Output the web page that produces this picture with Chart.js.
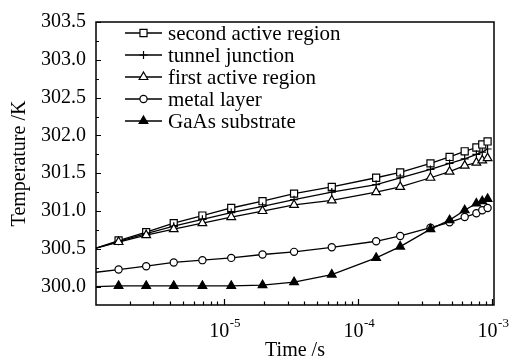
<!DOCTYPE html>
<html><head><meta charset="utf-8">
<script src="https://cdn.jsdelivr.net/npm/chart.js@4/dist/chart.umd.min.js"></script>
<style>html,body{margin:0;padding:0;background:#fff}</style>
</head><body>
<canvas id="c" width="516" height="363" style="width:516px;height:363px;display:block"></canvas>
<script>
// ---- data (time in seconds, temperature in K) ----
const times = [1.12e-6, 1.65e-6, 2.65e-6, 4.25e-6, 6.95e-6, 1.14e-5, 1.95e-5, 3.35e-5, 6.4e-5,
               1.37e-4, 2.07e-4, 3.48e-4, 4.83e-4, 6.26e-4, 7.65e-4, 8.46e-4, 9.27e-4];
const secondActive = [300.51, 300.61, 300.72, 300.84, 300.94, 301.04, 301.13, 301.23, 301.32,
                      301.44, 301.51, 301.63, 301.715, 301.79, 301.84, 301.88, 301.92];
const tunnelJunction = [300.51, 300.60, 300.70, 300.80, 300.89, 300.98, 301.06, 301.15, 301.25,
                        301.35, 301.44, 301.55, 301.63, 301.69, 301.75, 301.78, 301.82];
const firstActive = [300.51, 300.59, 300.68, 300.76, 300.84, 300.92, 301.00, 301.08, 301.14,
                     301.25, 301.32, 301.44, 301.52, 301.60, 301.64, 301.67, 301.70];
const metalLayer = [300.19, 300.226, 300.27, 300.32, 300.35, 300.38, 300.425, 300.46, 300.52,
                    300.60, 300.67, 300.78, 300.85, 300.92, 300.97, 301.01, 301.04];
const gaasSubstrate = [300.0, 300.01, 300.01, 300.01, 300.01, 300.01, 300.02, 300.06, 300.16,
                       300.38, 300.53, 300.76, 300.88, 301.01, 301.10, 301.13, 301.16];
const seriesLabels = ['second active region', 'tunnel junction', 'first active region', 'metal layer', 'GaAs substrate'];
const yTickValues = [300.0, 300.25, 300.5, 300.75, 301.0, 301.25, 301.5, 301.75, 302.0, 302.25, 302.5, 302.75, 303.0, 303.25, 303.5];
const xDecades = [1e-5, 1e-4, 1e-3];
const xDecadeBase = '10';
const xDecadeExp = ['-5', '-4', '-3'];

const FONT = '"Liberation Serif", "Times New Roman", serif';
const toXY = vals => vals.map((v, i) => ({x: times[i], y: v}));
const styles = [
  {pointStyle: 'rect', r: 5, bg: '#fff'},
  {pointStyle: 'cross', r: 4, bg: '#fff'},
  {pointStyle: 'triangle', r: 5, bg: '#fff'},
  {pointStyle: 'circle', r: 3.6, bg: '#fff'},
  {pointStyle: 'triangle', r: 5, bg: '#000'}
];
const seriesData = [secondActive, tunnelJunction, firstActive, metalLayer, gaasSubstrate];
const datasets = seriesData.map((vals, k) => ({
  label: seriesLabels[k],
  data: toXY(vals),
  borderColor: '#000',
  borderWidth: 1.3,
  pointStyle: styles[k].pointStyle,
  pointRadius: vals.map((v, i) => i === 0 ? 0 : styles[k].r),
  pointBorderWidth: 1.2,
  pointBorderColor: '#000',
  pointBackgroundColor: styles[k].bg,
  legendRadius: styles[k].r,
  legendBg: styles[k].bg,
  tension: 0,
  order: 5 - k
}));

const frameTicks = {
  id: 'frameTicks',
  afterDraw(chart) {
    const ctx = chart.ctx, a = chart.chartArea;
    const xs = chart.scales.x, ys = chart.scales.y;
    ctx.save();
    ctx.strokeStyle = '#000';
    ctx.lineWidth = 1.2;
    ctx.beginPath();
    xs.ticks.forEach(t => {
      const px = Math.round(xs.getPixelForValue(t.value)) + 0.5;
      const lg = Math.log10(t.value);
      const len = Math.abs(lg - Math.round(lg)) < 1e-9 ? 6 : 3.5;
      ctx.moveTo(px, a.bottom); ctx.lineTo(px, a.bottom - len);
    });
    ys.ticks.forEach(t => {
      const py = Math.round(ys.getPixelForValue(t.value)) + 0.5;
      const major = Math.abs(t.value * 2 - Math.round(t.value * 2)) < 1e-6;
      const len = major ? 5 : 3;
      ctx.moveTo(a.left, py); ctx.lineTo(a.left + len, py);
    });
    ctx.stroke();
    ctx.lineWidth = 1.5;
    ctx.strokeRect(a.left, a.top, a.right - a.left, a.bottom - a.top);

    // decade labels with superscript exponents
    ctx.fillStyle = '#000';
    ctx.textBaseline = 'alphabetic';
    ctx.textAlign = 'left';
    xDecades.forEach((d, i) => {
      const px = xs.getPixelForValue(d);
      ctx.font = '20px ' + FONT;
      const wb = ctx.measureText(xDecadeBase).width;
      ctx.font = '13px ' + FONT;
      const we = ctx.measureText(xDecadeExp[i]).width;
      const start = px - (wb + we) / 2 + 1;
      ctx.font = '20px ' + FONT;
      ctx.fillText(xDecadeBase, start, a.bottom + 32);
      ctx.font = '13px ' + FONT;
      ctx.fillText(xDecadeExp[i], start + wb + 0.5, a.bottom + 22);
    });
    ctx.restore();
  }
};

const innerLegend = {
  id: 'innerLegend',
  afterDraw(chart) {
    const ctx = chart.ctx;
    const x0 = 125, x1 = 162, tx = 168, y0 = 33, dy = 22;
    chart.data.datasets.forEach((ds, i) => {
      const y = y0 + i * dy;
      ctx.save();
      ctx.strokeStyle = '#000';
      ctx.lineWidth = 1.3;
      ctx.beginPath(); ctx.moveTo(x0, y); ctx.lineTo(x1, y); ctx.stroke();
      ctx.fillStyle = ds.legendBg;
      ctx.lineWidth = 1.2;
      Chart.helpers.drawPoint(ctx, {pointStyle: ds.pointStyle, radius: ds.legendRadius, rotation: 0, borderWidth: 1.2}, (x0 + x1) / 2, y);
      ctx.fillStyle = '#000';
      ctx.font = '21px ' + FONT;
      ctx.textBaseline = 'middle';
      ctx.textAlign = 'left';
      ctx.fillText(ds.label, tx, y + 1);
      ctx.restore();
    });
  }
};

new Chart(document.getElementById('c'), {
  type: 'line',
  data: {datasets},
  options: {
    responsive: false,
    devicePixelRatio: 1,
    animation: false,
    layout: {padding: {top: 12, right: 22, left: 0, bottom: 0}},
    plugins: {legend: {display: false}, tooltip: {enabled: false}},
    scales: {
      x: {
        type: 'logarithmic',
        min: 1.12e-6,
        max: 1.035e-3,
        afterFit: s => { s.height = 58; },
        afterBuildTicks: s => {
          const out = [];
          for (let e = -6; e <= -3; e++) {
            for (let m = 1; m <= 9; m++) {
              const v = m * Math.pow(10, e);
              if (v >= s.min && v <= s.max) out.push({value: v});
            }
          }
          s.ticks = out;
        },
        ticks: {autoSkip: false, maxRotation: 0, padding: 13, color: '#000', font: {family: FONT, size: 20}, callback: () => ''},
        grid: {display: false, drawTicks: false},
        border: {display: false},
        title: {display: true, text: 'Time /s', color: '#000', font: {family: FONT, size: 20}, padding: {top: 0, bottom: 0}}
      },
      y: {
        type: 'linear',
        min: 299.757,
        max: 303.5,
        afterFit: s => { s.width = 96; },
        afterBuildTicks: s => { s.ticks = yTickValues.map(v => ({value: v})); },
        ticks: {
          autoSkip: false, padding: 10, color: '#000',
          font: {family: FONT, size: 20},
          callback: v => (Math.abs(v * 2 - Math.round(v * 2)) < 1e-6 ? v.toFixed(1) : '')
        },
        grid: {display: false, drawTicks: false},
        border: {display: false},
        title: {display: true, text: 'Temperature /K', color: '#000', font: {family: FONT, size: 20}, padding: {top: 8, bottom: 0}}
      }
    }
  },
  plugins: [frameTicks, innerLegend]
});
</script>
</body></html>
